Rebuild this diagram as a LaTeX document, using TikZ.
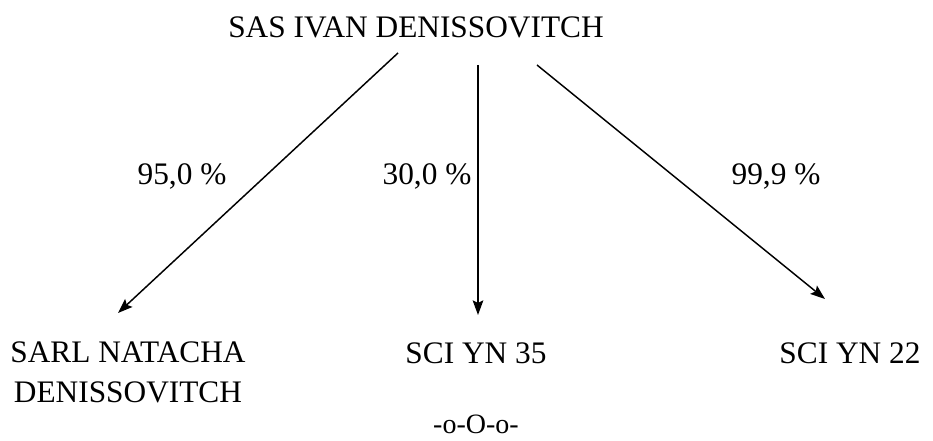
\documentclass[tikz,border=0pt]{standalone}
\usepackage{fontspec}
\setmainfont{Liberation Serif}
\usetikzlibrary{arrows.meta}
\begin{document}
\begin{tikzpicture}[x=0.75pt,y=-0.75pt,
  lbl/.style={font=\fontsize{23.5pt}{30pt}\selectfont, inner sep=0pt, align=center},
  conn/.style={line width=1.1pt, -{Stealth[length=11pt,width=8pt,inset=2pt]}}]
\useasboundingbox (0,0) rectangle (933,441);
\node[lbl] (top) at (416,27) {SAS IVAN DENISSOVITCH};
\node[lbl] (sarl) at (128,372) {SARL NATACHA\\DENISSOVITCH};
\node[lbl] (yn35) at (476,353) {SCI YN 35};
\node[lbl] (yn22) at (850,353) {SCI YN 22};
\node[lbl, font=\fontsize{21pt}{26pt}\selectfont] (end) at (476,424) {-o-O-o-};
\node[lbl] (p1) at (182,176) {95,0 \%};
\node[lbl] (p2) at (427,176) {30,0 \%};
\node[lbl] (p3) at (776,176) {99,9 \%};
\coordinate (s1) at (398,53);
\coordinate (e1) at (118,313);
\coordinate (s2) at (478,65);
\coordinate (e2) at (478,315);
\coordinate (s3) at (537,65);
\coordinate (e3) at (825,299);
\draw[conn] (s1) -- (e1);
\draw[conn] (s2) -- (e2);
\draw[conn] (s3) -- (e3);
\end{tikzpicture}
\end{document}
